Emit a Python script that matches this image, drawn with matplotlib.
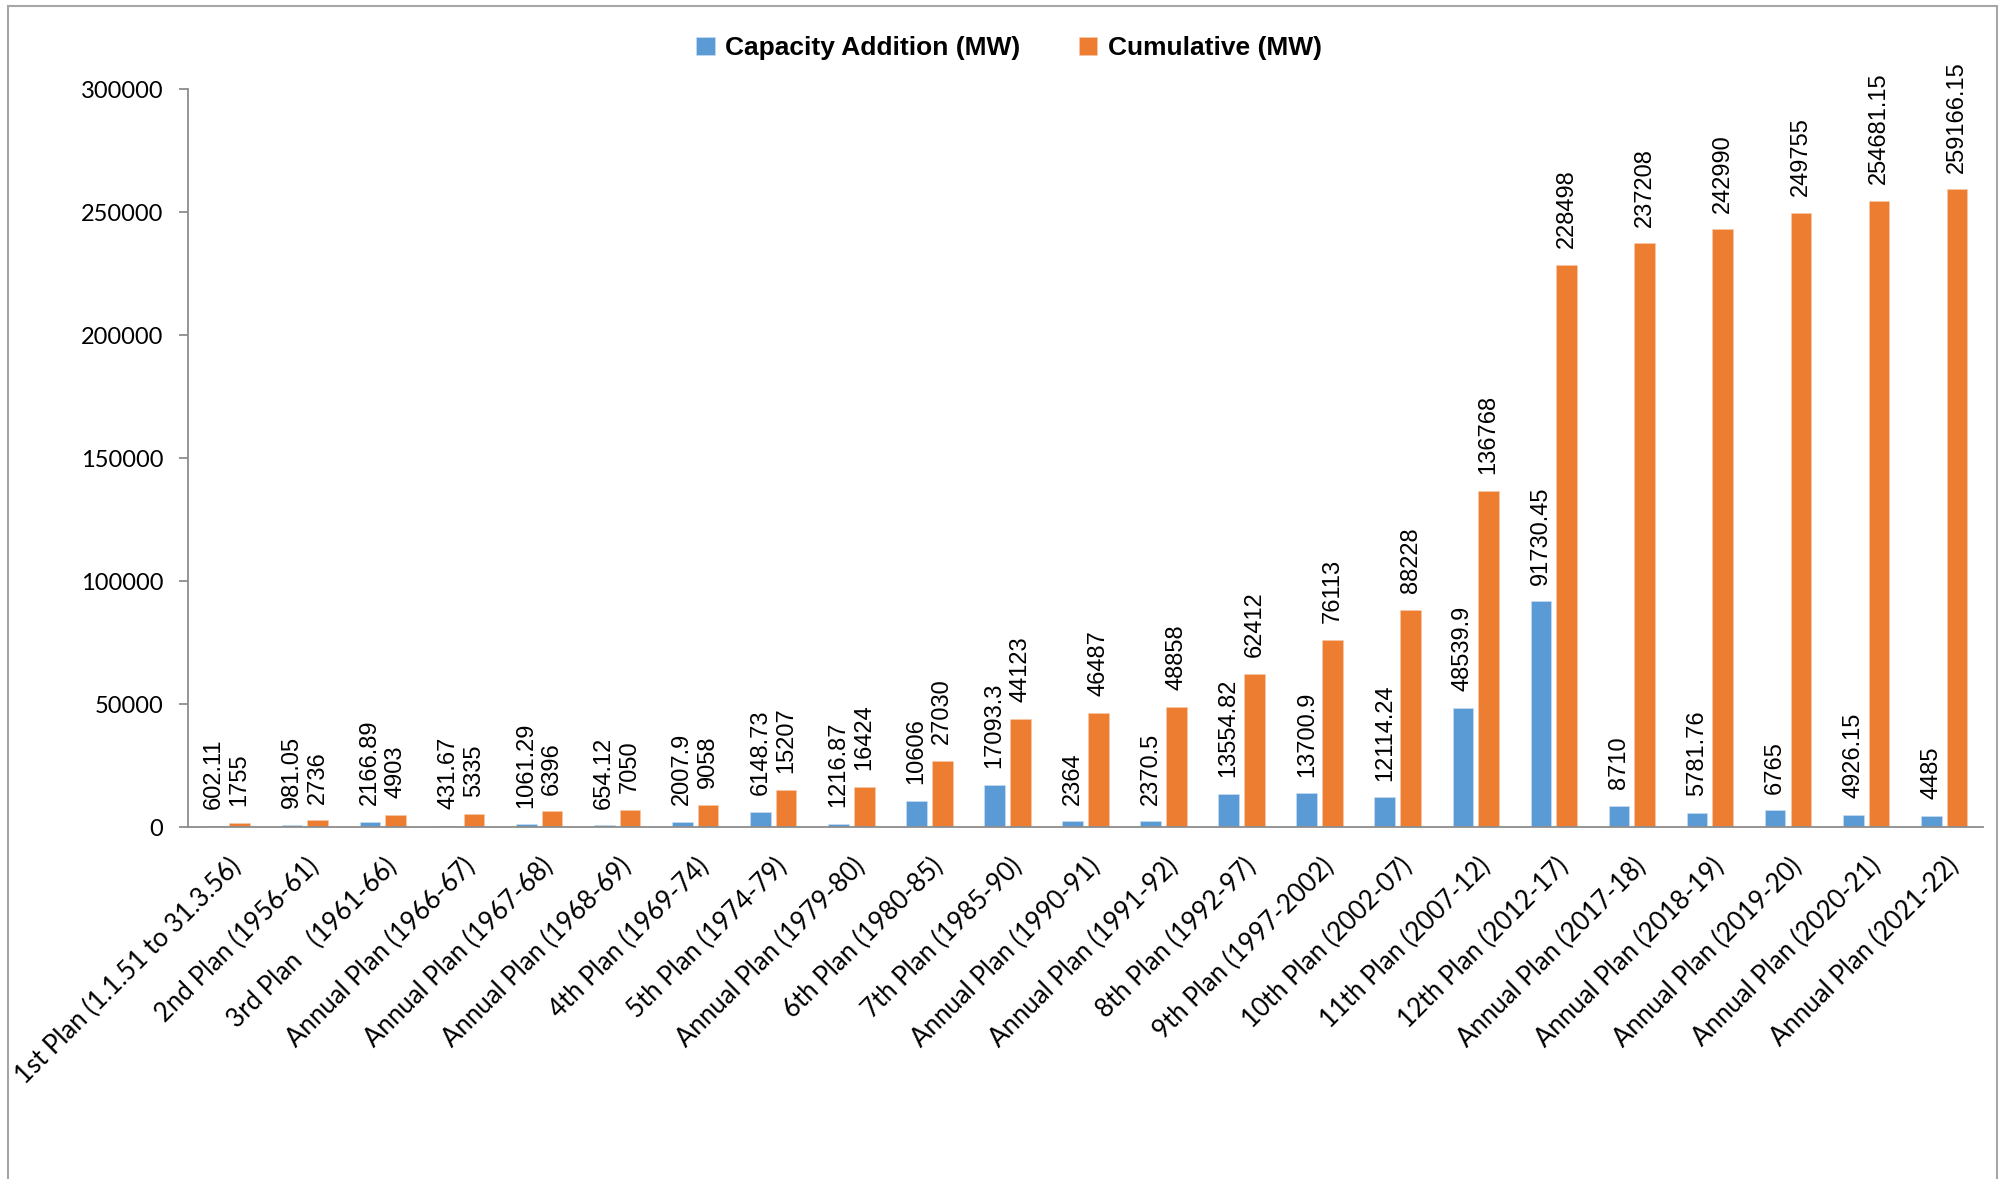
import numpy as np
import matplotlib
matplotlib.use("Agg")
import matplotlib.pyplot as plt
import matplotlib.transforms as mtransforms
from matplotlib.patches import Rectangle
from matplotlib.font_manager import FontProperties

categories = [
    "1st Plan (1.1.51 to 31.3.56)", "2nd Plan (1956-61)", "3rd Plan   (1961-66)",
    "Annual Plan (1966-67)", "Annual Plan (1967-68)", "Annual Plan (1968-69)",
    "4th Plan (1969-74)", "5th Plan (1974-79)", "Annual Plan (1979-80)",
    "6th Plan (1980-85)", "7th Plan (1985-90)", "Annual Plan (1990-91)",
    "Annual Plan (1991-92)", "8th Plan (1992-97)", "9th Plan (1997-2002)",
    "10th Plan (2002-07)", "11th Plan (2007-12)", "12th Plan (2012-17)",
    "Annual Plan (2017-18)", "Annual Plan (2018-19)", "Annual Plan (2019-20)",
    "Annual Plan (2020-21)", "Annual Plan (2021-22)",
]
capacity_addition = [602.11, 981.05, 2166.89, 431.67, 1061.29, 654.12, 2007.9,
                     6148.73, 1216.87, 10606, 17093.3, 2364, 2370.5, 13554.82,
                     13700.9, 12114.24, 48539.9, 91730.45, 8710, 5781.76, 6765,
                     4926.15, 4485]
cumulative = [1755, 2736, 4903, 5335, 6396, 7050, 9058, 15207, 16424, 27030,
              44123, 46487, 48858, 62412, 76113, 88228, 136768, 228498, 237208,
              242990, 249755, 254681.15, 259166.15]
series_names = ["Capacity Addition (MW)", "Cumulative (MW)"]
y_ticks = [0, 50000, 100000, 150000, 200000, 250000, 300000]

BLUE = "#5B9BD5"
ORANGE = "#ED7D31"
GRAY = "#8C8C8C"


def fmt(v):
    s = f"{v:.2f}".rstrip("0").rstrip(".")
    return s


fig = plt.figure(figsize=(20.04, 11.79), dpi=100)
ax = fig.add_axes([0.0937, 0.2985, 0.8959, 0.6260])

x = np.arange(len(categories))
w = 0.265
off = 0.165
b1 = ax.bar(x - off, capacity_addition, w, color=BLUE, edgecolor="#CFE1F3",
            linewidth=0.4, label=series_names[0])
b2 = ax.bar(x + off, cumulative, w, color=ORANGE, edgecolor="#F8CBAD",
            linewidth=0.4, label=series_names[1])

ax.set_xlim(-0.5, len(categories) - 0.5)
ax.set_ylim(0, 300000)
ax.set_yticks(y_ticks)
ax.set_yticklabels([str(t) for t in y_ticks], fontsize=17, family="Lato")

for s in ["top", "right"]:
    ax.spines[s].set_visible(False)
for s in ["left", "bottom"]:
    ax.spines[s].set_color(GRAY)
    ax.spines[s].set_linewidth(1.3)

ax.tick_params(axis="y", direction="out", length=6.3, width=1.3, color=GRAY, pad=11.5)
ax.tick_params(axis="x", length=0, pad=19)

ax.set_xticks(x)
ax.set_xticklabels(categories, rotation=45, ha="right", va="top",
                   rotation_mode="anchor", fontsize=18.5, family="Lato")
shift = mtransforms.ScaledTranslation(1.0 / 72, 0, fig.dpi_scale_trans)
for lbl in ax.get_xticklabels():
    lbl.set_transform(lbl.get_transform() + shift)

for bars, vals in [(b1, capacity_addition), (b2, cumulative)]:
    for rect, v in zip(bars, vals):
        ax.annotate(fmt(v), (rect.get_x() + rect.get_width() / 2, v),
                    xytext=(0, 12), textcoords="offset points",
                    rotation=90, ha="center", va="bottom",
                    fontsize=17, family="Liberation Sans", color="black")

fig.legend(handles=[b1, b2], labels=series_names, loc="center",
           bbox_to_anchor=(0.5035, 0.959), ncol=2, frameon=False,
           prop=FontProperties(family="Liberation Sans", weight="bold", size=19),
           handlelength=0.7, handleheight=0.7, handletextpad=0.4,
           columnspacing=2.2)

fig.patches.append(Rectangle((8 / 2004, -0.05), (1997 - 8) / 2004, 1.05 - 6 / 1179,
                             transform=fig.transFigure, fill=False,
                             edgecolor="#A6A6A6", linewidth=1.5))

fig.savefig("out.png", dpi=100, facecolor="white")
